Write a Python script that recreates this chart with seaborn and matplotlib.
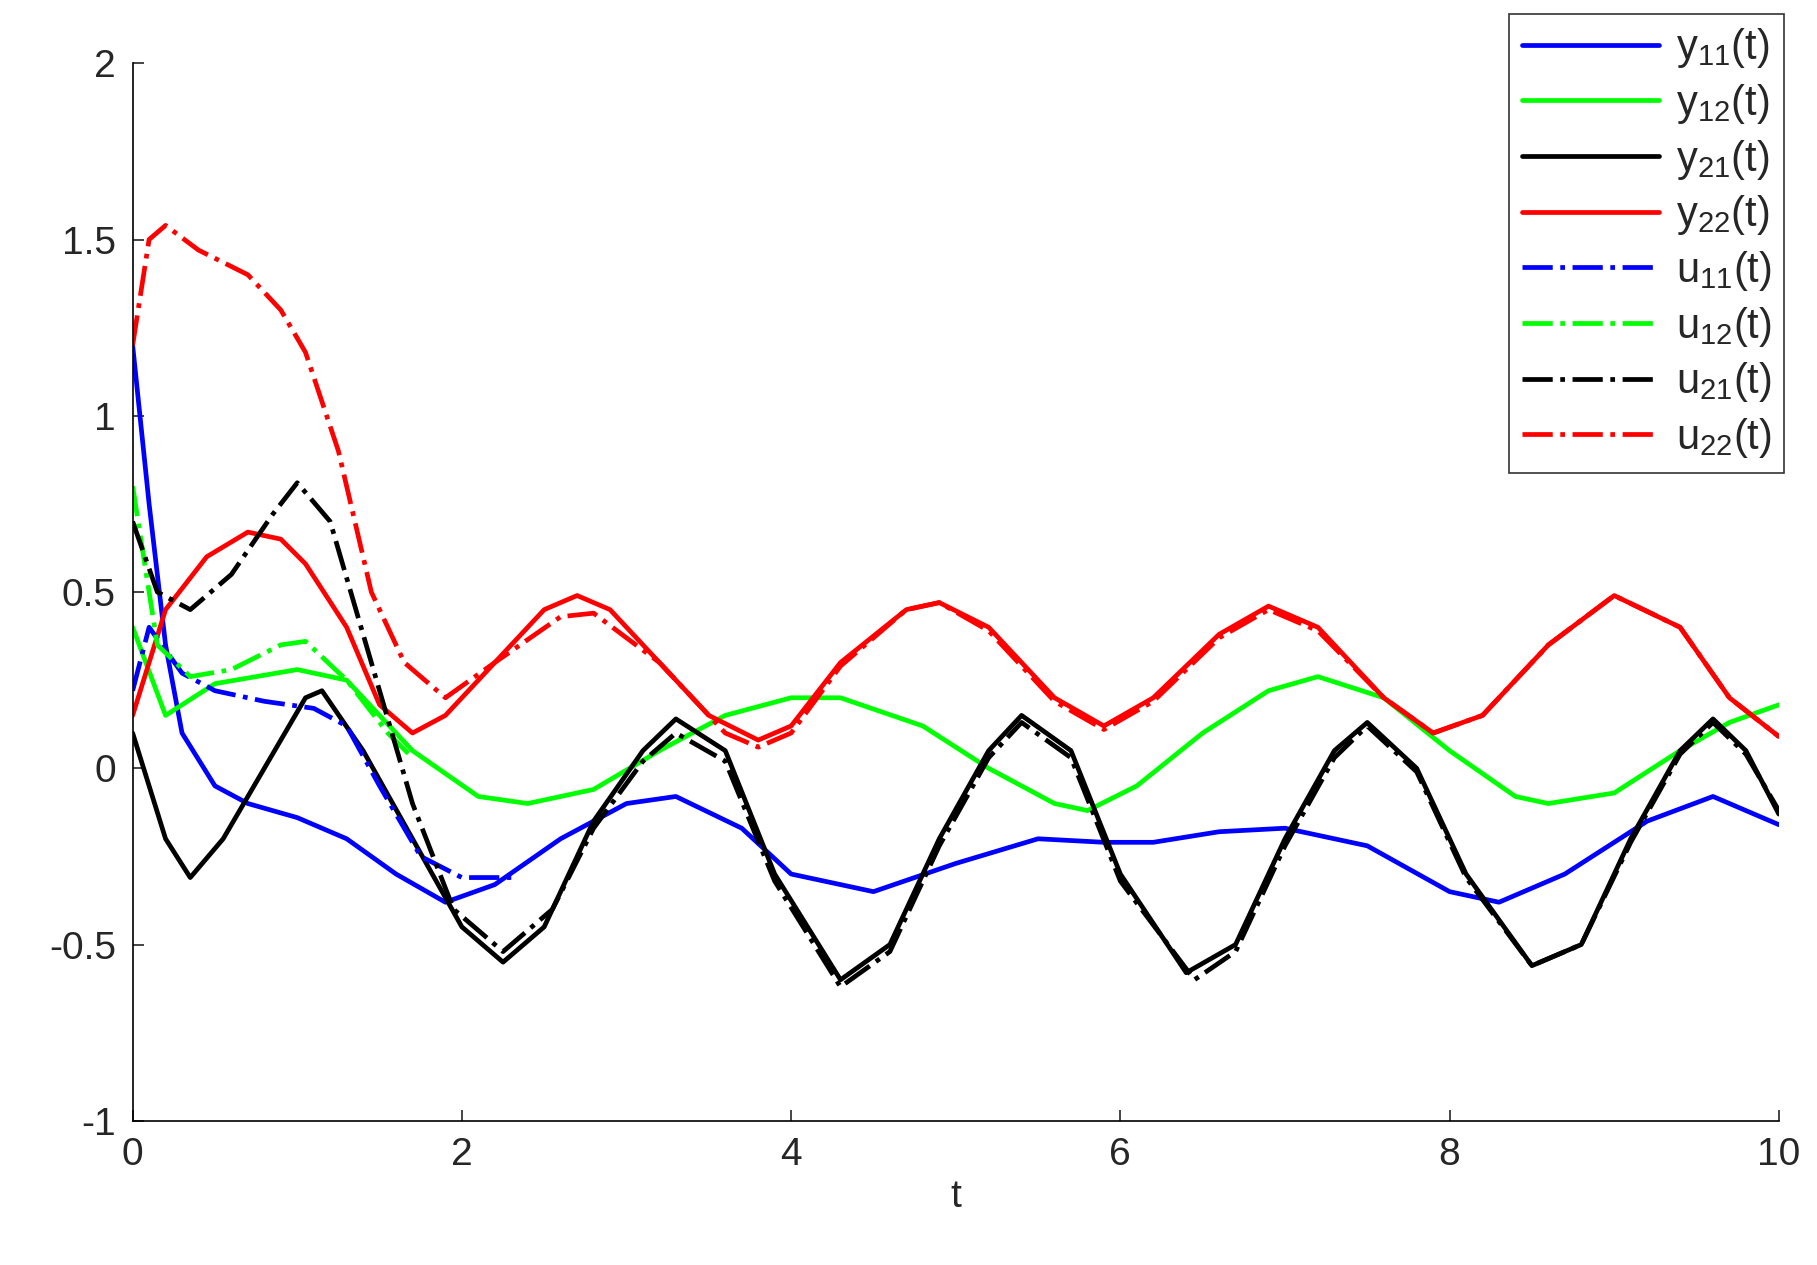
import matplotlib
matplotlib.use("Agg")
import matplotlib.pyplot as plt
import numpy as np
import pandas as pd
import seaborn as sb

sb.set_theme(style="white")
plt.rcParams['font.family'] = ['Liberation Sans', 'DejaVu Sans']
plt.rcParams['mathtext.fontset'] = 'custom'
plt.rcParams['mathtext.rm'] = 'Liberation Sans'
plt.rcParams['lines.solid_joinstyle'] = 'round'
plt.rcParams['lines.dash_joinstyle'] = 'round'

# values
t_y11 = [0, 0.1, 0.2, 0.3, 0.5, 0.7, 1.0, 1.3, 1.6, 1.9, 2.2, 2.6, 3.0, 3.3, 3.7, 4.0, 4.5, 5.0, 5.5, 5.9, 6.2, 6.6, 7.0, 7.5, 8.0, 8.3, 8.7, 9.2, 9.6, 10]
y11 = [1.2, 0.75, 0.35, 0.1, -0.05, -0.1, -0.14, -0.2, -0.3, -0.38, -0.33, -0.2, -0.1, -0.08, -0.17, -0.3, -0.35, -0.27, -0.2, -0.21, -0.21, -0.18, -0.17, -0.22, -0.35, -0.38, -0.3, -0.15, -0.08, -0.16]

t_y12 = [0, 0.2, 0.5, 1.0, 1.3, 1.7, 2.1, 2.4, 2.8, 3.2, 3.6, 4.0, 4.3, 4.8, 5.2, 5.6, 5.8, 6.1, 6.5, 6.9, 7.2, 7.6, 8.0, 8.4, 8.6, 9.0, 9.4, 9.7, 10]
y12 = [0.4, 0.15, 0.24, 0.28, 0.25, 0.05, -0.08, -0.1, -0.06, 0.05, 0.15, 0.2, 0.2, 0.12, 0.0, -0.1, -0.12, -0.05, 0.1, 0.22, 0.26, 0.2, 0.05, -0.08, -0.1, -0.07, 0.05, 0.13, 0.18]

t_y21 = [0, 0.2, 0.35, 0.55, 0.8, 1.05, 1.15, 1.4, 1.7, 2.0, 2.25, 2.5, 2.8, 3.1, 3.3, 3.6, 3.9, 4.3, 4.6, 4.9, 5.2, 5.4, 5.7, 6.0, 6.4, 6.7, 7.0, 7.3, 7.5, 7.8, 8.1, 8.5, 8.8, 9.1, 9.4, 9.6, 9.8, 10]
y21 = [0.1, -0.2, -0.31, -0.2, 0.0, 0.2, 0.22, 0.05, -0.2, -0.45, -0.55, -0.45, -0.15, 0.05, 0.14, 0.05, -0.3, -0.6, -0.5, -0.2, 0.05, 0.15, 0.05, -0.3, -0.58, -0.5, -0.2, 0.05, 0.13, 0.0, -0.3, -0.56, -0.5, -0.2, 0.05, 0.14, 0.05, -0.13]

t_y22 = [0, 0.2, 0.45, 0.7, 0.9, 1.05, 1.3, 1.5, 1.7, 1.9, 2.2, 2.5, 2.7, 2.9, 3.2, 3.5, 3.8, 4.0, 4.3, 4.7, 4.9, 5.2, 5.6, 5.9, 6.2, 6.6, 6.9, 7.2, 7.6, 7.9, 8.2, 8.6, 9.0, 9.4, 9.7, 10]
y22 = [0.15, 0.45, 0.6, 0.67, 0.65, 0.58, 0.4, 0.18, 0.1, 0.15, 0.3, 0.45, 0.49, 0.45, 0.3, 0.15, 0.08, 0.12, 0.3, 0.45, 0.47, 0.4, 0.2, 0.12, 0.2, 0.38, 0.46, 0.4, 0.2, 0.1, 0.15, 0.35, 0.49, 0.4, 0.2, 0.09]

t_u11 = [0, 0.1, 0.3, 0.5, 0.8, 1.1, 1.3, 1.5, 1.75, 2.0, 2.3]
u11 = [0.22, 0.4, 0.27, 0.22, 0.19, 0.17, 0.12, -0.05, -0.25, -0.31, -0.31]

t_u12 = [0, 0.15, 0.35, 0.6, 0.9, 1.05, 1.3, 1.55, 1.7]
u12 = [0.8, 0.35, 0.26, 0.28, 0.35, 0.36, 0.25, 0.1, 0.03]

t_u21 = [0, 0.15, 0.35, 0.6, 0.85, 1.0, 1.2, 1.45, 1.7, 1.95, 2.25, 2.55, 2.8, 3.1, 3.3, 3.6, 3.9, 4.3, 4.6, 4.9, 5.2, 5.4, 5.7, 6.0, 6.45, 6.7, 7.0, 7.3, 7.5, 7.8, 8.1, 8.5, 8.8, 9.1, 9.4, 9.6, 9.8, 10]
u21 = [0.7, 0.5, 0.45, 0.55, 0.72, 0.81, 0.7, 0.3, -0.1, -0.4, -0.52, -0.4, -0.17, 0.02, 0.1, 0.02, -0.32, -0.62, -0.52, -0.22, 0.03, 0.13, 0.03, -0.32, -0.6, -0.52, -0.22, 0.03, 0.12, -0.01, -0.31, -0.56, -0.5, -0.21, 0.04, 0.13, 0.04, -0.12]

t_u22 = [0, 0.1, 0.2, 0.4, 0.7, 0.9, 1.05, 1.25, 1.45, 1.65, 1.9, 2.2, 2.6, 2.8, 3.2, 3.6, 3.8, 4.0, 4.3, 4.7, 4.9, 5.2, 5.6, 5.9, 6.2, 6.6, 6.9, 7.2, 7.6, 7.9, 8.2, 8.6, 9.0, 9.4, 9.7, 10]
u22 = [1.2, 1.5, 1.54, 1.47, 1.4, 1.3, 1.18, 0.9, 0.5, 0.3, 0.2, 0.3, 0.43, 0.44, 0.3, 0.1, 0.06, 0.1, 0.29, 0.45, 0.47, 0.39, 0.19, 0.11, 0.19, 0.37, 0.45, 0.39, 0.2, 0.1, 0.15, 0.35, 0.49, 0.4, 0.2, 0.09]

series = [
    (t_y11, y11, 'y_{11}(t)', '#0000ff', '-'),
    (t_y12, y12, 'y_{12}(t)', '#00ff00', '-'),
    (t_y21, y21, 'y_{21}(t)', '#000000', '-'),
    (t_y22, y22, 'y_{22}(t)', '#ff0000', '-'),
    (t_u11, u11, 'u_{11}(t)', '#0000ff', '-.'),
    (t_u12, u12, 'u_{12}(t)', '#00ff00', '-.'),
    (t_u21, u21, 'u_{21}(t)', '#000000', '-.'),
    (t_u22, u22, 'u_{22}(t)', '#ff0000', '-.'),
]

fig = plt.figure(figsize=(18.17, 12.65), dpi=100)
ax = fig.add_axes([0.073, 0.114, 0.906, 0.836])

for t, v, name, col, ls in series:
    df = pd.DataFrame({'t': t, 'v': v})
    sb.lineplot(data=df, x='t', y='v', ax=ax, color=col, linestyle=ls,
                linewidth=3.4, sort=False, label=r'$\mathregular{' + name + '}$')

ax.set_xlim(0, 10)
ax.set_ylim(-1, 2)
ax.set_xticks([0, 2, 4, 6, 8, 10])
ax.set_yticks([-1, -0.5, 0, 0.5, 1, 1.5, 2])
ax.set_yticklabels(['-1', '-0.5', '0', '0.5', '1', '1.5', '2'])
ax.set_xlabel('t', fontsize=28, labelpad=4)
ax.set_ylabel('')
ax.tick_params(labelsize=28, direction='in', length=8, width=1.2, pad=12,
               bottom=True, left=True, top=False, right=False)
for side in ['top', 'right']:
    ax.spines[side].set_visible(False)
for side in ['bottom', 'left']:
    ax.spines[side].set_color('black')
    ax.spines[side].set_linewidth(1.2)

leg = ax.legend(loc='upper right', bbox_to_anchor=(0.982, 0.989),
                bbox_transform=fig.transFigure, fontsize=30, frameon=True,
                fancybox=False, handlelength=3.3, handletextpad=0.4,
                labelspacing=0.28, borderpad=0.3, borderaxespad=0)
leg.get_frame().set_edgecolor('black')
leg.get_frame().set_linewidth(1.2)

fig.savefig('out.png', dpi=100, facecolor='white')
